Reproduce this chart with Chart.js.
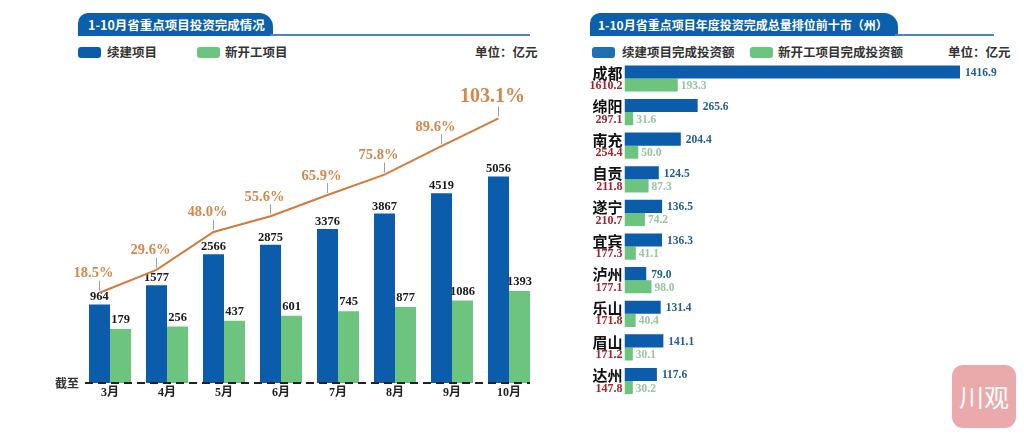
<!DOCTYPE html>
<html>
<head>
<meta charset="utf-8">
<script src="https://cdn.jsdelivr.net/npm/chart.js@4.4.1/dist/chart.umd.min.js"></script>
<style>
body{margin:0;width:1024px;height:436px;background:#fff;position:relative;overflow:hidden;font-family:"Noto Sans CJK SC",sans-serif;}
.tab{position:absolute;top:13px;height:23px;background:#0b5fab;color:#fff;font-weight:bold;font-size:12.5px;line-height:23px;border-radius:10px 14px 0 0;padding-left:10px;box-sizing:border-box;white-space:nowrap;}
.rule{position:absolute;top:34px;height:2px;background:#4a85c2;}
.sw{position:absolute;top:47px;width:23px;height:11px;border-radius:3px;}
.lg{position:absolute;top:43px;font-size:12.5px;color:#333;font-weight:bold;line-height:18px;white-space:nowrap;}
canvas{position:absolute;}
.mark{position:absolute;left:952px;top:365px;width:64px;height:63px;border-radius:11px;background:#eaa9aa;color:#fff;font-size:25px;line-height:63px;text-align:center;}
</style>
</head>
<body>
<div class="tab" style="left:78px;width:195px;">1-10月省重点项目投资完成情况</div>
<div class="rule" style="left:270px;width:260px;"></div>
<div class="sw" style="left:78px;background:#0b5cab;"></div>
<div class="lg" style="left:107px;">续建项目</div>
<div class="sw" style="left:197px;background:#6cc47e;"></div>
<div class="lg" style="left:225px;">新开工项目</div>
<div class="lg" style="left:475px;">单位：亿元</div>

<div class="tab" style="left:590px;width:308px;padding-left:8px;font-size:12px;">1-10月省重点项目年度投资完成总量排位前十市（州）</div>
<div class="rule" style="left:895px;width:99px;"></div>
<div class="sw" style="left:592px;background:#1f6fb3;"></div>
<div class="lg" style="left:622px;">续建项目完成投资额</div>
<div class="sw" style="left:750px;background:#6cc47e;"></div>
<div class="lg" style="left:778px;">新开工项目完成投资额</div>
<div class="lg" style="left:948px;">单位：亿元</div>

<canvas id="left" width="560" height="340" style="left:0;top:70px;"></canvas>
<canvas id="leftLine" width="560" height="340" style="left:0;top:70px;"></canvas>
<canvas id="right" width="464" height="350" style="left:560px;top:56px;"></canvas>
<div class="mark">川观</div>

<script>
// left chart: cumulative investment by month
const months = ['3月', '4月', '5月', '6月', '7月', '8月', '9月', '10月'];
const continued = [964, 1577, 2566, 2875, 3376, 3867, 4519, 5056];
const newStart = [179, 256, 437, 601, 745, 877, 1086, 1393];
const pct = [18.5, 29.6, 48.0, 55.6, 65.9, 75.8, 89.6, 103.1];

// right chart: top ten cities
const cities = ['成都', '绵阳', '南充', '自贡', '遂宁', '宜宾', '泸州', '乐山', '眉山', '达州'];
const cityTotal = [1610.2, 297.1, 254.4, 211.8, 210.7, 177.3, 177.1, 171.8, 171.2, 147.8];
const cityContinued = [1416.9, 265.6, 204.4, 124.5, 136.5, 136.3, 79.0, 131.4, 141.1, 117.6];
const cityNew = [193.3, 31.6, 50.0, 87.3, 74.2, 41.1, 98.0, 40.4, 30.1, 30.2];

const BLUE = '#0b5cab';
const GREEN = '#6cc47e';
const SERIF = '"Liberation Serif", "Noto Sans CJK SC"';
const CAT_PCT = 0.737;
const PAD = { left: 81.5, right: 22.5, top: 10 };

const barLabels = {
    id: 'barLabels',
    afterDatasetsDraw(chart) {
        const ctx = chart.ctx;
        const blue = chart.getDatasetMeta(0);
        const green = chart.getDatasetMeta(1);
        ctx.save();
        ctx.textAlign = 'center';
        ctx.textBaseline = 'bottom';
        ctx.font = 'bold 12.5px ' + SERIF;
        ctx.fillStyle = '#1a1a1a';
        blue.data.forEach((b, i) => ctx.fillText(continued[i], b.x, b.y - 1));
        green.data.forEach((b, i) => ctx.fillText(newStart[i], b.x, b.y - 3));

        // dashed base line + label
        const b0 = blue.data[0];
        const gl = green.data[green.data.length - 1];
        const y0 = chart.chartArea.bottom;
        const x0 = b0.x - b0.width / 2 - 4;
        ctx.setLineDash([8, 5]);
        ctx.lineWidth = 2;
        ctx.strokeStyle = '#222';
        ctx.beginPath();
        ctx.moveTo(x0, y0);
        ctx.lineTo(gl.x + gl.width / 2, y0);
        ctx.stroke();
        ctx.setLineDash([]);
        ctx.font = 'bold 12px "Noto Sans CJK SC"';
        ctx.textAlign = 'right';
        ctx.textBaseline = 'middle';
        ctx.fillStyle = '#333';
        ctx.fillText('截至', x0 - 6, y0);
        ctx.restore();
    }
};

const pctLabels = {
    id: 'pctLabels',
    afterDatasetsDraw(chart) {
        const ctx = chart.ctx;
        const line = chart.getDatasetMeta(0);
        ctx.save();
        line.data.forEach((p, i) => {
            const last = i === line.data.length - 1;
            ctx.strokeStyle = '#a0a0a0';
            ctx.lineWidth = 1;
            ctx.beginPath();
            ctx.moveTo(p.x, p.y - 2);
            ctx.lineTo(p.x, p.y - 12);
            ctx.stroke();
            ctx.font = 'bold ' + (last ? 20 : 14.5) + 'px ' + SERIF;
            ctx.fillStyle = '#d4874c';
            ctx.textAlign = 'center';
            ctx.textBaseline = 'bottom';
            ctx.fillText(pct[i].toFixed(1) + '%', p.x - 6, p.y - 12);
        });
        ctx.restore();
    }
};

new Chart(document.getElementById('left'), {
    type: 'bar',
    data: {
        labels: months,
        datasets: [{
            label: '续建项目',
            data: continued,
            backgroundColor: BLUE,
            base: -1550,
            categoryPercentage: CAT_PCT,
            barPercentage: 1
        }, {
            label: '新开工项目',
            data: newStart,
            backgroundColor: GREEN,
            base: -1550,
            categoryPercentage: CAT_PCT,
            barPercentage: 1
        }]
    },
    options: {
        responsive: false,
        animation: false,
        layout: { padding: { left: PAD.left, right: PAD.right, top: PAD.top, bottom: 6.6 } },
        plugins: { legend: { display: false }, tooltip: { enabled: false } },
        scales: {
            x: {
                grid: { display: false, drawTicks: false },
                border: { display: false },
                ticks: { color: '#222', padding: 3, font: { family: SERIF, size: 12, weight: 'bold' } }
            },
            y: { display: false, min: -1550, max: 8140 }
        }
    },
    plugins: [barLabels]
});

// completion-rate line, drawn on a transparent canvas over the bars;
// each point sits over its month's 续建 bar
new Chart(document.getElementById('leftLine'), {
    type: 'line',
    data: {
        datasets: [{
            label: '完成率',
            data: pct.map((v, i) => ({ x: i - CAT_PCT / 4, y: v })),
            borderColor: '#d27b3c',
            borderWidth: 2,
            pointRadius: 0,
            tension: 0
        }]
    },
    options: {
        responsive: false,
        animation: false,
        layout: { padding: { left: PAD.left, right: PAD.right, top: PAD.top, bottom: 27 } },
        plugins: { legend: { display: false }, tooltip: { enabled: false } },
        scales: {
            x: { type: 'linear', display: false, offset: false, min: -0.5, max: months.length - 0.5 },
            y: { display: false, min: -25.3, max: 121.7 }
        }
    },
    plugins: [pctLabels]
});

const rightLabels = {
    id: 'rightLabels',
    afterDatasetsDraw(chart) {
        const ctx = chart.ctx;
        const area = chart.chartArea;
        const m0 = chart.getDatasetMeta(0);
        const m1 = chart.getDatasetMeta(1);
        ctx.save();
        ctx.textBaseline = 'middle';
        ctx.textAlign = 'left';
        ctx.font = 'bold 11.5px ' + SERIF;
        ctx.fillStyle = '#1f5d96';
        m0.data.forEach((b, i) => ctx.fillText(cityContinued[i].toFixed(1), Math.min(b.x, area.right) + 5, b.y + 1));
        ctx.fillStyle = '#97c5a1';
        m1.data.forEach((b, i) => ctx.fillText(cityNew[i].toFixed(1), Math.min(b.x, area.right) + 3, b.y + 1));
        ctx.textAlign = 'right';
        ctx.fillStyle = '#111';
        ctx.font = 'bold 15px "Noto Sans CJK SC"';
        m0.data.forEach((b, i) => ctx.fillText(cities[i], area.left - 2, b.y + 1));
        ctx.fillStyle = '#a8222c';
        ctx.font = 'bold 12px ' + SERIF;
        m1.data.forEach((b, i) => ctx.fillText(cityTotal[i].toFixed(1), area.left - 2, b.y + 1));
        ctx.restore();
    }
};

new Chart(document.getElementById('right'), {
    type: 'bar',
    data: {
        labels: cities,
        datasets: [{
            label: '续建项目完成投资额',
            data: cityContinued,
            backgroundColor: BLUE,
            categoryPercentage: 0.78,
            barPercentage: 1,
            clip: 0
        }, {
            label: '新开工项目完成投资额',
            data: cityNew,
            backgroundColor: GREEN,
            categoryPercentage: 0.78,
            barPercentage: 1,
            clip: 0
        }]
    },
    options: {
        indexAxis: 'y',
        responsive: false,
        animation: false,
        layout: { padding: { left: 64.5, right: 64, top: 5.7, bottom: 8.2 } },
        plugins: { legend: { display: false }, tooltip: { enabled: false } },
        scales: {
            x: { display: false, min: 0, max: 1218 },
            y: { display: false }
        }
    },
    plugins: [rightLabels]
});
</script>
</body>
</html>
